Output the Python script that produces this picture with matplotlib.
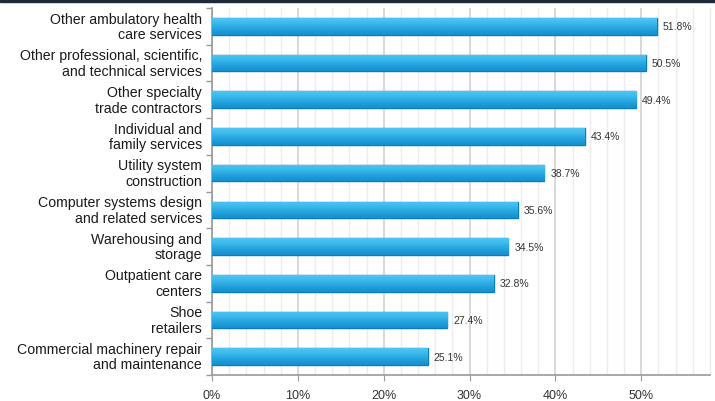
import numpy as np
import matplotlib.pyplot as plt
import matplotlib.transforms as mtransforms
from matplotlib.patches import Rectangle
from matplotlib.colors import LinearSegmentedColormap

plt.rcParams['font.family'] = ['Liberation Sans', 'DejaVu Sans']

# industries, top to bottom
industries = [
    "Other ambulatory health\ncare services",
    "Other professional, scientific,\nand technical services",
    "Other specialty\ntrade contractors",
    "Individual and\nfamily services",
    "Utility system\nconstruction",
    "Computer systems design\nand related services",
    "Warehousing and\nstorage",
    "Outpatient care\ncenters",
    "Shoe\nretailers",
    "Commercial machinery repair\nand maintenance",
]
shares = [51.8, 50.5, 49.4, 43.4, 38.7, 35.6, 34.5, 32.8, 27.4, 25.1]
xticks = [0, 10, 20, 30, 40, 50]

fig = plt.figure(figsize=(7.15, 4.02), dpi=100)
ax = fig.add_axes([212/715, 26/402, 498/715, 367/402])

# dark strip along the top edge
fig.patches.append(Rectangle((0, 1 - 3/402), 1, 3/402, transform=fig.transFigure,
                             color='#1c2a3a', zorder=10))

y = np.arange(len(industries))
bars = ax.barh(y, shares, height=0.45, color='#2eaee5', edgecolor='#0b7cbd',
               linewidth=1.0, zorder=3)

# vertical shading inside each bar, light on top
shade = LinearSegmentedColormap.from_list('shade', ['#50c6f1', '#3ab7eb', '#22a2dc', '#168fcf'])
grad = np.linspace(0, 1, 64).reshape(-1, 1)
for b in bars:
    x0, y0 = b.get_x(), b.get_y()
    w, h = b.get_width(), b.get_height()
    im = ax.imshow(grad, cmap=shade, aspect='auto', extent=(x0, x0 + w, y0, y0 + h),
                   origin='lower', zorder=3.5)
    im.set_clip_path(b)
    ax.text(w + 0.7, y0 + h / 2, f"{w:.1f}%", va='center', ha='left',
            fontsize=7.5, color='#333333', zorder=5)

ax.set_xlim(0, 58)
ax.set_ylim(len(industries) - 0.5, -0.5)

ax.set_xticks(xticks)
ax.set_xticklabels([f"{v}%" for v in xticks])
ax.set_xticks(np.arange(0, 59, 2), minor=True)
ax.grid(axis='x', which='major', color='#d6d6d6', linewidth=1.3, zorder=0)
ax.grid(axis='x', which='minor', color='#ececec', linewidth=1.0, zorder=0)

# category names, right-aligned line by line
ax.set_yticks([])
lbl_tr = mtransforms.offset_copy(ax.get_yaxis_transform(), fig=fig, x=-10, y=0, units='dots')
for yi, name in zip(y, industries):
    ax.text(0, yi, name, transform=lbl_tr, ha='right', va='center',
            multialignment='right', fontsize=10.2, color='#1a1a1a', linespacing=1.15)

ax.set_yticks(np.arange(-0.5, len(industries), 1), minor=True)
ax.tick_params(axis='y', which='minor', length=4, color='#999999', width=1)
ax.tick_params(axis='x', which='major', length=4, color='#999999', labelsize=9,
               labelcolor='#333333', pad=6)
ax.tick_params(axis='x', which='minor', length=0)

ax.spines['top'].set_visible(False)
ax.spines['right'].set_color('#ececec')
ax.spines['left'].set_color('#999999')
ax.spines['bottom'].set_color('#999999')
ax.spines['left'].set_linewidth(1.2)
ax.spines['bottom'].set_linewidth(1.2)

fig.savefig('out.png', dpi=100)
